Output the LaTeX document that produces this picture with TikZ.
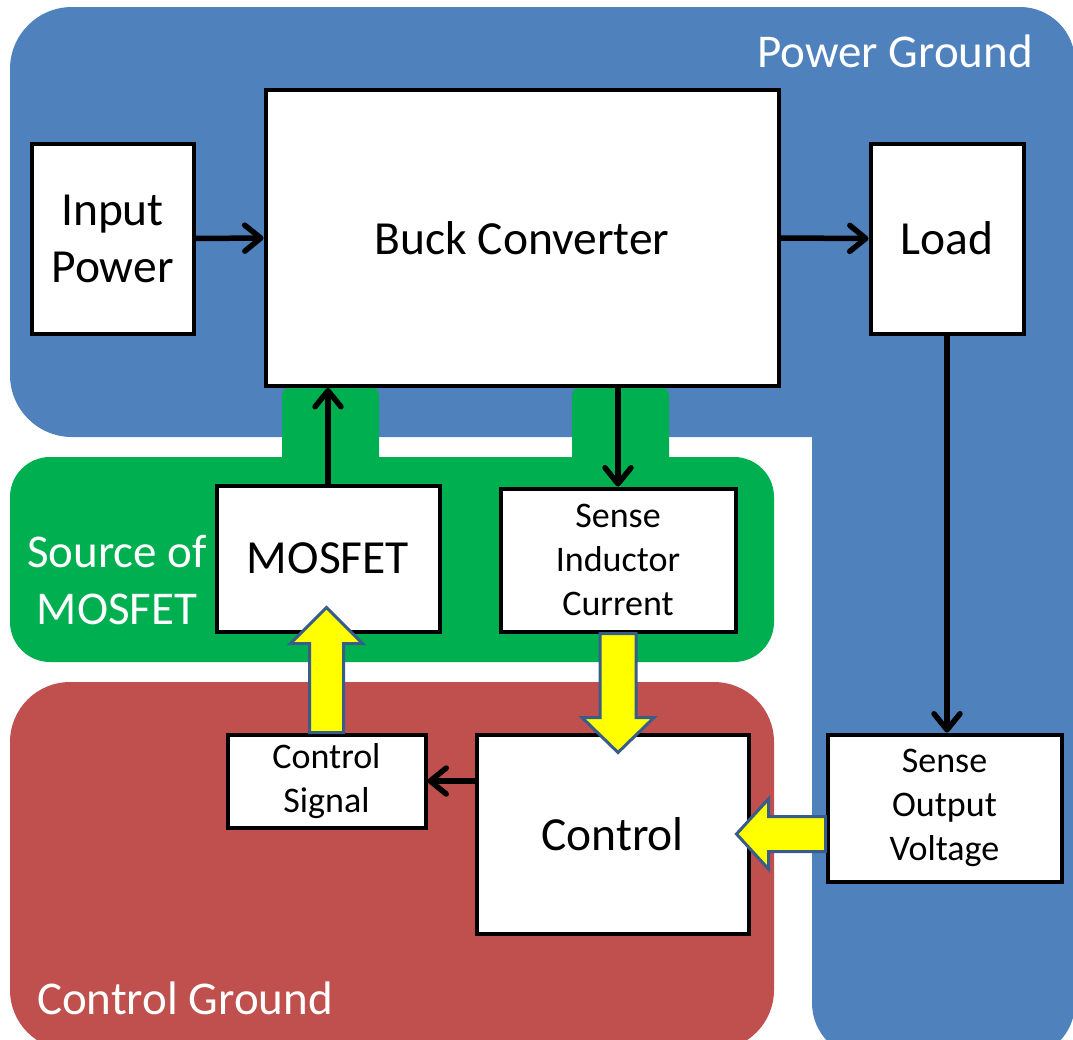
\documentclass[tikz,border=0pt]{standalone}
\usepackage{fontspec}
\setmainfont{Carlito}
\usetikzlibrary{arrows.meta,calc}
\definecolor{pwrblue}{RGB}{79,129,189}
\definecolor{srcgreen}{RGB}{0,176,80}
\definecolor{ctlred}{RGB}{192,80,77}
\definecolor{sigyellow}{RGB}{255,255,0}
\definecolor{sigedge}{RGB}{56,93,138}

\begin{document}
\begin{tikzpicture}[x=1pt,y=-1pt,
  block/.style={draw=black, fill=white, line width=4pt, inner sep=0pt, align=center},
  bigtext/.style={font=\fontsize{47.5}{57}\selectfont},
  smalltext/.style={font=\fontsize{36}{44}\selectfont},
  zonelabel/.style={text=white, font=\fontsize{47}{57}\selectfont, align=center, inner sep=0pt},
  flow/.style={draw=black, line width=5.5pt, line cap=round,
    -{Straight Barb[round,length=16pt,width=26pt,line width=5.5pt]}},
  sigarrow/.style={fill=sigyellow, draw=sigedge, line width=3pt, line join=miter},
]
\useasboundingbox (0,0) rectangle (1073,1039);

% ground zones
\fill[pwrblue, rounded corners=62pt] (10,7) rectangle (1075,437);
\fill[pwrblue, rounded corners=55pt] (812,7) rectangle (1075,1058);
\fill[srcgreen, rounded corners=10pt] (282,386) rectangle (379,480);
\fill[srcgreen, rounded corners=10pt] (572,386) rectangle (669,480);
\fill[srcgreen, rounded corners=40pt] (10,457) rectangle (774,662);
\fill[ctlred, rounded corners=60pt] (10,682) rectangle (774,1050);

% blocks
\node[block, bigtext, minimum width=162pt, minimum height=190pt] (inp) at (112.5,238.5) {Input\\Power};
\node[block, bigtext, minimum width=513pt, minimum height=296pt] (buck) at (522,238) {Buck Converter};
\node[block, bigtext, minimum width=153pt, minimum height=190pt] (load) at (947,238.5) {Load};
\node[block, bigtext, minimum width=223pt, minimum height=146pt] (mosfet) at (328,558.5) {MOSFET};
\node[block, smalltext, minimum width=235pt, minimum height=143pt] (sic) at (618,560) {Sense\\Inductor\\Current};
\node[block, smalltext, minimum width=198pt, minimum height=93pt] (csig) at (326.5,781) {Control\\Signal};
\node[block, bigtext, minimum width=272pt, minimum height=199pt] (ctrl) at (612.5,834) {Control};
\node[block, smalltext, minimum width=234pt, minimum height=147pt] (sov) at (944.5,808) {Sense\\Output\\Voltage};

% zone labels
\node[zonelabel, anchor=base] (pglabel) at (895,67) {Power Ground};
\node[zonelabel] (srclabel) at (117,580) {Source of\\MOSFET};
\node[zonelabel, anchor=base] (cglabel) at (185,1014) {Control Ground};

% power path
\draw[flow] (inp.east) -- (buck.west);
\draw[flow] (buck.east) -- (load.west);
\draw[flow] (mosfet.north) -- (mosfet.north |- buck.south);
\draw[flow] (sic.north |- buck.south) -- (sic.north);
\draw[flow] (load.south) -- (load.south |- sov.north);
\draw[flow] (ctrl.west |- csig.east) -- (csig.east);

% isolated signal crossings
\draw[sigarrow] ($(csig.north)+(-17,0)$) -- ++(0,-89) -- ++(-19,0) -- ++(36,-36)
  -- ++(36,36) -- ++(-19,0) -- ++(0,89) -- cycle;
\draw[sigarrow] ($(sic.south)+(-18,0)$) -- ++(0,84) -- ++(-18,0) -- ++(36,35)
  -- ++(36,-35) -- ++(-18,0) -- ++(0,-84) -- cycle;
\draw[sigarrow] ($(sov.west |- ctrl.east)+(0,-17.5)$) -- ++(-57,0) -- ++(0,-17.5)
  -- ++(-32,35) -- ++(32,35) -- ++(0,-17.5) -- ++(57,0) -- cycle;
\end{tikzpicture}
\end{document}
